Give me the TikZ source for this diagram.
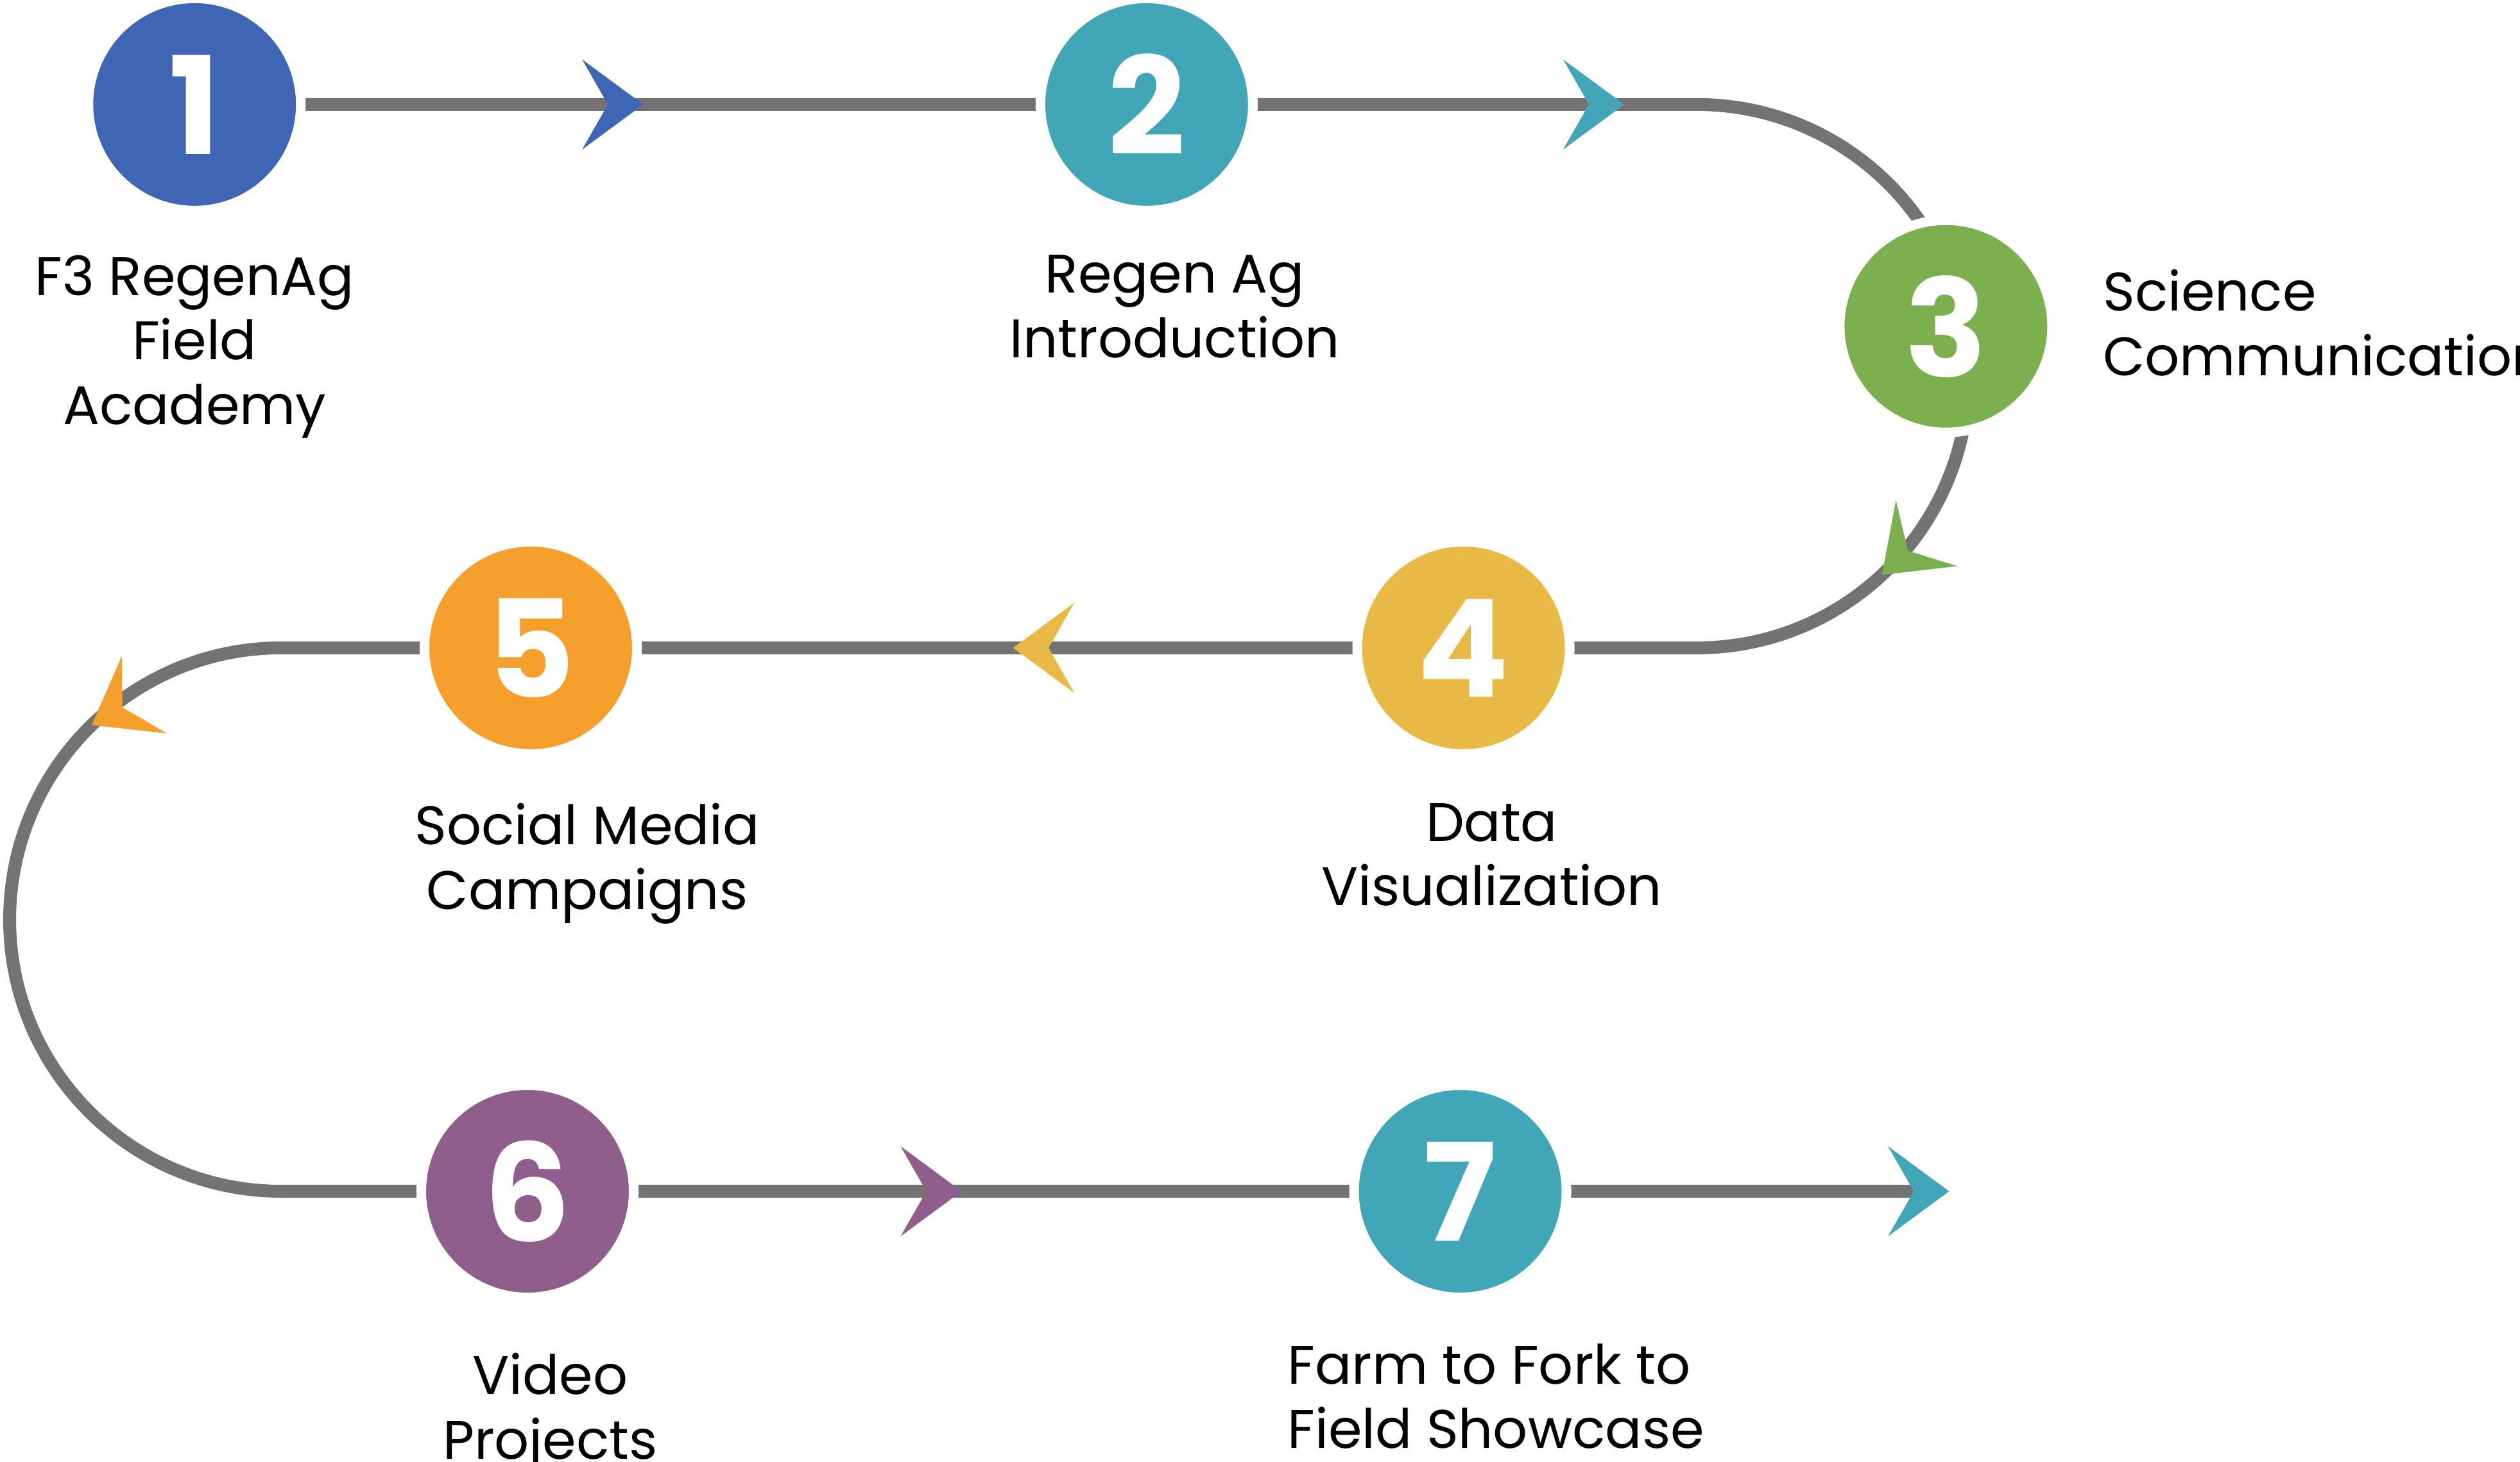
\documentclass[tikz,border=0pt]{standalone}
\usepackage{fontspec}
\setmainfont{Poppins}
\usetikzlibrary{positioning,calc}
\definecolor{cblue}{HTML}{3E66B5}
\definecolor{cteal}{HTML}{41A7B8}
\definecolor{cgreen}{HTML}{7CAF4E}
\definecolor{cyellow}{HTML}{E8B945}
\definecolor{corange}{HTML}{F5A02C}
\definecolor{cpurple}{HTML}{8F5E8B}
\definecolor{cline}{HTML}{737373}
\tikzset{
  step/.style = {circle, fill=#1, draw=white, line width=0.06cm, minimum size=1.32cm,
                 inner sep=0pt, text=white, font=\fontsize{24}{24}\selectfont\bfseries},
  lbl/.style  = {align=center, inner sep=0pt, font=\fontsize{9.6}{11.4}\selectfont},
  track/.style = {draw=cline, line width=0.08cm}
}
% chevron arrow head: tip at (#1), pointing to angle #2
\newcommand{\chev}[3]{\fill[#3, shift={(#1)}, rotate=#2]
  (0,0) -- (-38,28) -- (-22,0) -- (-38,-28) -- cycle;}
\begin{document}
\begin{tikzpicture}[x=0.01cm, y=0.01cm]
  \useasboundingbox (0,0) rectangle (1567,909);

  % track
  \coordinate (r1) at (1055,844);
  \coordinate (r2) at (1055,506);
  \coordinate (l1) at (175,506);
  \coordinate (l2) at (175,168);
  \coordinate (e7) at (1205,168);
  \path[track] (190,844) -- (r1) arc[start angle=90, end angle=-90, radius=169] -- (l1)
    arc[start angle=90, end angle=270, radius=169] -- (e7);

  % steps
  \node[step=cblue]   (c1) at (121,844) {1};
  \node[step=cteal]   (c2) at (713,844) {2};
  \node[step=cgreen]  (c3) at (1210,706) {3};
  \node[step=cyellow] (c4) at (910,506) {4};
  \node[step=corange] (c5) at (330,506) {5};
  \node[step=cpurple] (c6) at (328,168) {6};
  \node[step=cteal]   (c7) at (908,168) {7};

  % arrow heads
  \chev{400,844}{0}{cblue}
  \chev{1010,844}{0}{cteal}
  \chev{$(1055,675)+(-47:169)$}{-137}{cgreen}
  \chev{630,506}{180}{cyellow}
  \chev{57,458}{-150}{corange}
  \chev{598,168}{0}{cpurple}
  \chev{1212,168}{0}{cteal}

  % labels
  \node[lbl, below=0.24cm of c1] (t1) {F3 RegenAg\\Field\\Academy};
  \node[lbl, below=0.24cm of c2, xshift=5] (t2) {Regen Ag\\Introduction};
  \node[lbl, align=left, anchor=north west] (t3) at ($(c3.east)+(28,36)$) {Science\\Communication};
  \node[lbl, below=0.27cm of c4, xshift=5] (t4) {Data\\Visualization};
  \node[lbl, below=0.27cm of c5, xshift=10] (t5) {Social Media\\Campaigns};
  \node[lbl, below=0.31cm of c6, xshift=4] (t6) {Video\\Projects};
  \node[lbl, align=left, anchor=north west] (t7) at ($(c7.south)+(-108,-25)$) {Farm to Fork to\\Field Showcase};
\end{tikzpicture}
\end{document}
